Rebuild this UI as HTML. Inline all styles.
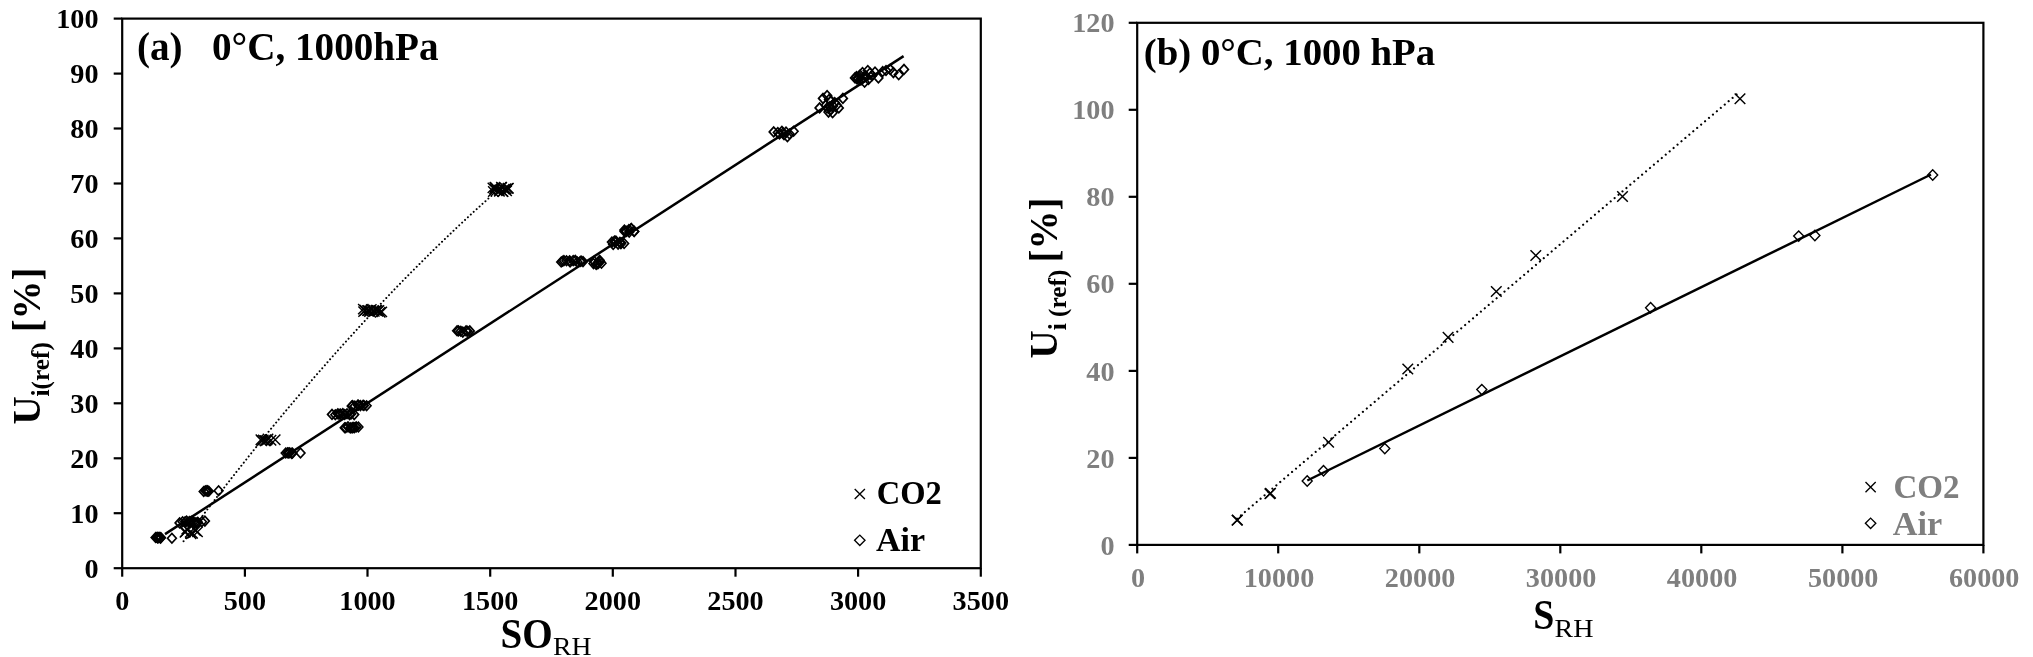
<!DOCTYPE html><html><head><meta charset="utf-8"><title>chart</title><style>
html,body{margin:0;padding:0;background:#fff;}
svg{display:block;filter:grayscale(1);font-family:"Liberation Serif",serif;font-weight:bold;}
.ax{stroke:#000;stroke-width:2.2;fill:none;stroke-linecap:butt}
.tk{stroke:#000;stroke-width:2.2}
.d{fill:none;stroke:#000;stroke-width:1.7}
.dr{fill:none;stroke:#000;stroke-width:1.4}
.x{fill:none;stroke:#000;stroke-width:1.45}
.lx{fill:none;stroke:#000;stroke-width:1.35}
.sol{stroke:#000;stroke-width:2.5;fill:none}
.dot{stroke:#000;stroke-width:2.2;fill:none;stroke-dasharray:0.01 5.15;stroke-linecap:round}
.dotl{stroke:#000;stroke-width:2.0;fill:none;stroke-dasharray:0.01 3.95;stroke-linecap:round}
.tl{font-size:28.2px;fill:#000}
.tg{font-size:28.2px;fill:#7f7f7f}
</style></head><body>
<svg width="2033" height="657" viewBox="0 0 2033 657">
<rect width="2033" height="657" fill="#fff"/>
<rect class="ax" x="122.2" y="18.6" width="858.6" height="549.6"/>
<line class="tk" x1="113.7" y1="568.2" x2="122.2" y2="568.2"/>
<text class="tl" x="98.5" y="577.8" text-anchor="end">0</text>
<line class="tk" x1="113.7" y1="513.2" x2="122.2" y2="513.2"/>
<text class="tl" x="98.5" y="522.8" text-anchor="end">10</text>
<line class="tk" x1="113.7" y1="458.3" x2="122.2" y2="458.3"/>
<text class="tl" x="98.5" y="467.9" text-anchor="end">20</text>
<line class="tk" x1="113.7" y1="403.3" x2="122.2" y2="403.3"/>
<text class="tl" x="98.5" y="412.9" text-anchor="end">30</text>
<line class="tk" x1="113.7" y1="348.4" x2="122.2" y2="348.4"/>
<text class="tl" x="98.5" y="358.0" text-anchor="end">40</text>
<line class="tk" x1="113.7" y1="293.4" x2="122.2" y2="293.4"/>
<text class="tl" x="98.5" y="303.0" text-anchor="end">50</text>
<line class="tk" x1="113.7" y1="238.4" x2="122.2" y2="238.4"/>
<text class="tl" x="98.5" y="248.0" text-anchor="end">60</text>
<line class="tk" x1="113.7" y1="183.5" x2="122.2" y2="183.5"/>
<text class="tl" x="98.5" y="193.1" text-anchor="end">70</text>
<line class="tk" x1="113.7" y1="128.5" x2="122.2" y2="128.5"/>
<text class="tl" x="98.5" y="138.1" text-anchor="end">80</text>
<line class="tk" x1="113.7" y1="73.6" x2="122.2" y2="73.6"/>
<text class="tl" x="98.5" y="83.2" text-anchor="end">90</text>
<line class="tk" x1="113.7" y1="18.6" x2="122.2" y2="18.6"/>
<text class="tl" x="98.5" y="28.2" text-anchor="end">100</text>
<line class="tk" x1="122.2" y1="568.2" x2="122.2" y2="576.7"/>
<text class="tl" x="122.2" y="610" text-anchor="middle">0</text>
<line class="tk" x1="244.9" y1="568.2" x2="244.9" y2="576.7"/>
<text class="tl" x="244.9" y="610" text-anchor="middle">500</text>
<line class="tk" x1="367.5" y1="568.2" x2="367.5" y2="576.7"/>
<text class="tl" x="367.5" y="610" text-anchor="middle">1000</text>
<line class="tk" x1="490.2" y1="568.2" x2="490.2" y2="576.7"/>
<text class="tl" x="490.2" y="610" text-anchor="middle">1500</text>
<line class="tk" x1="612.8" y1="568.2" x2="612.8" y2="576.7"/>
<text class="tl" x="612.8" y="610" text-anchor="middle">2000</text>
<line class="tk" x1="735.5" y1="568.2" x2="735.5" y2="576.7"/>
<text class="tl" x="735.5" y="610" text-anchor="middle">2500</text>
<line class="tk" x1="858.1" y1="568.2" x2="858.1" y2="576.7"/>
<text class="tl" x="858.1" y="610" text-anchor="middle">3000</text>
<line class="tk" x1="980.8" y1="568.2" x2="980.8" y2="576.7"/>
<text class="tl" x="980.8" y="610" text-anchor="middle">3500</text>
<line class="sol" x1="165" y1="534.1" x2="903.6" y2="56.1"/>
<path class="dotl" d="M183.6 541.2 L191.7 530.3 L199.8 519.5 L207.9 508.8 L216.1 498.2 L224.2 487.6 L232.3 477.2 L240.4 466.9 L248.5 456.7 L256.6 446.6 L264.7 436.5 L272.8 426.6 L280.9 416.8 L289.1 407.0 L297.2 397.4 L305.3 387.9 L313.4 378.4 L321.5 369.1 L329.6 359.8 L337.7 350.7 L345.9 341.6 L354.0 332.7 L362.1 323.8 L370.2 315.1 L378.3 306.4 L386.4 297.9 L394.5 289.4 L402.6 281.0 L410.8 272.7 L418.9 264.6 L427.0 256.5 L435.1 248.5 L443.2 240.6 L451.3 232.9 L459.4 225.2 L467.5 217.6 L475.6 210.1 L483.8 202.7 L491.9 195.4 L500.0 188.2 L508.1 181.1"/>
<path class="d" d="M151.2 537.5L155.6 532.7L160.0 537.5L155.6 542.3Z"/>
<path class="d" d="M152.7 537.4L157.1 532.6L161.5 537.4L157.1 542.2Z"/>
<path class="d" d="M153.3 537.7L157.7 532.9L162.1 537.7L157.7 542.5Z"/>
<path class="d" d="M153.1 537.8L157.5 533.0L161.9 537.8L157.5 542.6Z"/>
<path class="d" d="M153.9 537.7L158.3 532.9L162.7 537.7L158.3 542.5Z"/>
<path class="d" d="M154.7 537.4L159.1 532.6L163.5 537.4L159.1 542.2Z"/>
<path class="d" d="M156.2 538.1L160.6 533.3L165.0 538.1L160.6 542.9Z"/>
<path class="d" d="M156.4 537.5L160.8 532.7L165.2 537.5L160.8 542.3Z"/>
<path class="d" d="M167.5 538.2L171.9 533.4L176.3 538.2L171.9 543.0Z"/>
<path class="d" d="M175.2 522.9L179.6 518.1L184.0 522.9L179.6 527.7Z"/>
<path class="d" d="M178.2 521.8L182.6 517.0L187.0 521.8L182.6 526.6Z"/>
<path class="d" d="M182.2 521.1L186.6 516.3L191.0 521.1L186.6 525.9Z"/>
<path class="d" d="M185.2 521.6L189.6 516.8L194.0 521.6L189.6 526.4Z"/>
<path class="d" d="M186.9 521.2L191.3 516.4L195.7 521.2L191.3 526.0Z"/>
<path class="d" d="M190.5 522.6L194.9 517.8L199.3 522.6L194.9 527.4Z"/>
<path class="d" d="M193.4 522.2L197.8 517.4L202.2 522.2L197.8 527.0Z"/>
<path class="d" d="M197.5 521.7L201.9 516.9L206.3 521.7L201.9 526.5Z"/>
<path class="d" d="M200.5 521.1L204.9 516.3L209.3 521.1L204.9 525.9Z"/>
<path class="d" d="M180.7 521.8L185.1 517.0L189.5 521.8L185.1 526.6Z"/>
<path class="d" d="M184.4 522.3L188.8 517.5L193.2 522.3L188.8 527.1Z"/>
<path class="d" d="M186.0 522.7L190.4 517.9L194.8 522.7L190.4 527.5Z"/>
<path class="d" d="M188.7 522.0L193.1 517.2L197.5 522.0L193.1 526.8Z"/>
<path class="d" d="M191.8 523.0L196.2 518.2L200.6 523.0L196.2 527.8Z"/>
<path class="d" d="M193.1 522.7L197.5 517.9L201.9 522.7L197.5 527.5Z"/>
<path class="d" d="M199.3 491.5L203.7 486.7L208.1 491.5L203.7 496.3Z"/>
<path class="d" d="M200.9 490.7L205.3 485.9L209.7 490.7L205.3 495.5Z"/>
<path class="d" d="M202.6 490.5L207.0 485.7L211.4 490.5L207.0 495.3Z"/>
<path class="d" d="M202.7 491.3L207.1 486.5L211.5 491.3L207.1 496.1Z"/>
<path class="d" d="M203.4 491.0L207.8 486.2L212.2 491.0L207.8 495.8Z"/>
<path class="d" d="M204.4 491.2L208.8 486.4L213.2 491.2L208.8 496.0Z"/>
<path class="d" d="M214.2 490.7L218.6 485.9L223.0 490.7L218.6 495.5Z"/>
<path class="d" d="M281.3 453.0L285.7 448.2L290.1 453.0L285.7 457.8Z"/>
<path class="d" d="M283.0 452.7L287.4 447.9L291.8 452.7L287.4 457.5Z"/>
<path class="d" d="M284.1 453.0L288.5 448.2L292.9 453.0L288.5 457.8Z"/>
<path class="d" d="M285.3 452.8L289.7 448.0L294.1 452.8L289.7 457.6Z"/>
<path class="d" d="M287.3 453.4L291.7 448.6L296.1 453.4L291.7 458.2Z"/>
<path class="d" d="M288.0 453.1L292.4 448.3L296.8 453.1L292.4 457.9Z"/>
<path class="d" d="M296.1 453.0L300.5 448.2L304.9 453.0L300.5 457.8Z"/>
<path class="d" d="M327.6 414.4L332.0 409.6L336.4 414.4L332.0 419.2Z"/>
<path class="d" d="M330.9 414.8L335.3 410.0L339.7 414.8L335.3 419.6Z"/>
<path class="d" d="M333.4 413.8L337.8 409.0L342.2 413.8L337.8 418.6Z"/>
<path class="d" d="M334.6 414.3L339.0 409.5L343.4 414.3L339.0 419.1Z"/>
<path class="d" d="M336.0 414.0L340.4 409.2L344.8 414.0L340.4 418.8Z"/>
<path class="d" d="M338.4 413.6L342.8 408.8L347.2 413.6L342.8 418.4Z"/>
<path class="d" d="M340.3 414.5L344.7 409.7L349.1 414.5L344.7 419.3Z"/>
<path class="d" d="M342.6 413.7L347.0 408.9L351.4 413.7L347.0 418.5Z"/>
<path class="d" d="M345.2 414.6L349.6 409.8L354.0 414.6L349.6 419.4Z"/>
<path class="d" d="M346.7 414.0L351.1 409.2L355.5 414.0L351.1 418.8Z"/>
<path class="d" d="M349.8 414.6L354.2 409.8L358.6 414.6L354.2 419.4Z"/>
<path class="d" d="M347.3 406.1L351.7 401.3L356.1 406.1L351.7 410.9Z"/>
<path class="d" d="M348.2 405.5L352.6 400.7L357.0 405.5L352.6 410.3Z"/>
<path class="d" d="M350.4 406.1L354.8 401.3L359.2 406.1L354.8 410.9Z"/>
<path class="d" d="M353.5 405.1L357.9 400.3L362.3 405.1L357.9 409.9Z"/>
<path class="d" d="M354.0 405.2L358.4 400.4L362.8 405.2L358.4 410.0Z"/>
<path class="d" d="M356.0 405.6L360.4 400.8L364.8 405.6L360.4 410.4Z"/>
<path class="d" d="M358.7 405.3L363.1 400.5L367.5 405.3L363.1 410.1Z"/>
<path class="d" d="M359.5 405.5L363.9 400.7L368.3 405.5L363.9 410.3Z"/>
<path class="d" d="M362.2 405.7L366.6 400.9L371.0 405.7L366.6 410.5Z"/>
<path class="d" d="M340.3 427.8L344.7 423.0L349.1 427.8L344.7 432.6Z"/>
<path class="d" d="M341.3 427.7L345.7 422.9L350.1 427.7L345.7 432.5Z"/>
<path class="d" d="M343.6 426.9L348.0 422.1L352.4 426.9L348.0 431.7Z"/>
<path class="d" d="M345.9 427.9L350.3 423.1L354.7 427.9L350.3 432.7Z"/>
<path class="d" d="M347.7 427.9L352.1 423.1L356.5 427.9L352.1 432.7Z"/>
<path class="d" d="M348.7 427.4L353.1 422.6L357.5 427.4L353.1 432.2Z"/>
<path class="d" d="M350.0 427.7L354.4 422.9L358.8 427.7L354.4 432.5Z"/>
<path class="d" d="M351.8 426.9L356.2 422.1L360.6 426.9L356.2 431.7Z"/>
<path class="d" d="M354.0 427.0L358.4 422.2L362.8 427.0L358.4 431.8Z"/>
<path class="d" d="M452.7 330.8L457.1 326.0L461.5 330.8L457.1 335.6Z"/>
<path class="d" d="M454.1 330.9L458.5 326.1L462.9 330.9L458.5 335.7Z"/>
<path class="d" d="M456.4 331.3L460.8 326.5L465.2 331.3L460.8 336.1Z"/>
<path class="d" d="M458.4 332.1L462.8 327.3L467.2 332.1L462.8 336.9Z"/>
<path class="d" d="M461.7 330.9L466.1 326.1L470.5 330.9L466.1 335.7Z"/>
<path class="d" d="M463.1 331.3L467.5 326.5L471.9 331.3L467.5 336.1Z"/>
<path class="d" d="M465.4 330.9L469.8 326.1L474.2 330.9L469.8 335.7Z"/>
<path class="d" d="M556.8 262.0L561.2 257.2L565.6 262.0L561.2 266.8Z"/>
<path class="d" d="M558.1 261.2L562.5 256.4L566.9 261.2L562.5 266.0Z"/>
<path class="d" d="M559.5 260.6L563.9 255.8L568.3 260.6L563.9 265.4Z"/>
<path class="d" d="M562.1 260.8L566.5 256.0L570.9 260.8L566.5 265.6Z"/>
<path class="d" d="M565.2 260.7L569.6 255.9L574.0 260.7L569.6 265.5Z"/>
<path class="d" d="M565.7 261.9L570.1 257.1L574.5 261.9L570.1 266.7Z"/>
<path class="d" d="M568.8 260.6L573.2 255.8L577.6 260.6L573.2 265.4Z"/>
<path class="d" d="M570.9 260.4L575.3 255.6L579.7 260.4L575.3 265.2Z"/>
<path class="d" d="M573.0 262.0L577.4 257.2L581.8 262.0L577.4 266.8Z"/>
<path class="d" d="M575.8 261.5L580.2 256.7L584.6 261.5L580.2 266.3Z"/>
<path class="d" d="M576.7 261.0L581.1 256.2L585.5 261.0L581.1 265.8Z"/>
<path class="d" d="M578.6 261.6L583.0 256.8L587.4 261.6L583.0 266.4Z"/>
<path class="d" d="M589.1 263.6L593.5 258.8L597.9 263.6L593.5 268.4Z"/>
<path class="d" d="M589.7 261.2L594.1 256.4L598.5 261.2L594.1 266.0Z"/>
<path class="d" d="M591.8 264.5L596.2 259.7L600.6 264.5L596.2 269.3Z"/>
<path class="d" d="M592.9 263.7L597.3 258.9L601.7 263.7L597.3 268.5Z"/>
<path class="d" d="M593.9 263.5L598.3 258.7L602.7 263.5L598.3 268.3Z"/>
<path class="d" d="M593.8 262.5L598.2 257.7L602.6 262.5L598.2 267.3Z"/>
<path class="d" d="M595.2 260.3L599.6 255.5L604.0 260.3L599.6 265.1Z"/>
<path class="d" d="M595.6 261.4L600.0 256.6L604.4 261.4L600.0 266.2Z"/>
<path class="d" d="M597.1 263.2L601.5 258.4L605.9 263.2L601.5 268.0Z"/>
<path class="d" d="M607.5 242.1L611.9 237.3L616.3 242.1L611.9 246.9Z"/>
<path class="d" d="M608.8 244.4L613.2 239.6L617.6 244.4L613.2 249.2Z"/>
<path class="d" d="M610.2 241.7L614.6 236.9L619.0 241.7L614.6 246.5Z"/>
<path class="d" d="M610.1 241.1L614.5 236.3L618.9 241.1L614.5 245.9Z"/>
<path class="d" d="M611.5 241.0L615.9 236.2L620.3 241.0L615.9 245.8Z"/>
<path class="d" d="M613.7 244.1L618.1 239.3L622.5 244.1L618.1 248.9Z"/>
<path class="d" d="M615.5 242.2L619.9 237.4L624.3 242.2L619.9 247.0Z"/>
<path class="d" d="M616.5 243.6L620.9 238.8L625.3 243.6L620.9 248.4Z"/>
<path class="d" d="M616.7 243.0L621.1 238.2L625.5 243.0L621.1 247.8Z"/>
<path class="d" d="M619.7 243.5L624.1 238.7L628.5 243.5L624.1 248.3Z"/>
<path class="d" d="M620.0 230.0L624.4 225.2L628.8 230.0L624.4 234.8Z"/>
<path class="d" d="M620.2 231.4L624.6 226.6L629.0 231.4L624.6 236.2Z"/>
<path class="d" d="M621.9 231.4L626.3 226.6L630.7 231.4L626.3 236.2Z"/>
<path class="d" d="M624.5 229.6L628.9 224.8L633.3 229.6L628.9 234.4Z"/>
<path class="d" d="M624.8 232.1L629.2 227.3L633.6 232.1L629.2 236.9Z"/>
<path class="d" d="M626.8 228.6L631.2 223.8L635.6 228.6L631.2 233.4Z"/>
<path class="d" d="M626.9 228.6L631.3 223.8L635.7 228.6L631.3 233.4Z"/>
<path class="d" d="M629.8 231.4L634.2 226.6L638.6 231.4L634.2 236.2Z"/>
<path class="d" d="M629.7 231.5L634.1 226.7L638.5 231.5L634.1 236.3Z"/>
<path class="d" d="M769.3 131.9L773.7 127.1L778.1 131.9L773.7 136.7Z"/>
<path class="d" d="M773.4 132.6L777.8 127.8L782.2 132.6L777.8 137.4Z"/>
<path class="d" d="M777.5 131.2L781.9 126.4L786.3 131.2L781.9 136.0Z"/>
<path class="d" d="M779.6 134.7L784.0 129.9L788.4 134.7L784.0 139.5Z"/>
<path class="d" d="M783.0 136.7L787.4 131.9L791.8 136.7L787.4 141.5Z"/>
<path class="d" d="M785.1 134.0L789.5 129.2L793.9 134.0L789.5 138.8Z"/>
<path class="d" d="M789.2 131.2L793.6 126.4L798.0 131.2L793.6 136.0Z"/>
<path class="d" d="M775.1 134.0L779.5 129.2L783.9 134.0L779.5 138.8Z"/>
<path class="d" d="M778.6 133.0L783.0 128.2L787.4 133.0L783.0 137.8Z"/>
<path class="d" d="M781.6 132.0L786.0 127.2L790.4 132.0L786.0 136.8Z"/>
<path class="d" d="M815.2 107.9L819.6 103.1L824.0 107.9L819.6 112.7Z"/>
<path class="d" d="M818.6 98.4L823.0 93.6L827.4 98.4L823.0 103.2Z"/>
<path class="d" d="M822.7 95.6L827.1 90.8L831.5 95.6L827.1 100.4Z"/>
<path class="d" d="M821.4 105.2L825.8 100.4L830.2 105.2L825.8 110.0Z"/>
<path class="d" d="M824.1 112.1L828.5 107.3L832.9 112.1L828.5 116.9Z"/>
<path class="d" d="M826.8 101.1L831.2 96.3L835.6 101.1L831.2 105.9Z"/>
<path class="d" d="M828.2 112.7L832.6 107.9L837.0 112.7L832.6 117.5Z"/>
<path class="d" d="M832.3 105.2L836.7 100.4L841.1 105.2L836.7 110.0Z"/>
<path class="d" d="M834.4 107.9L838.8 103.1L843.2 107.9L838.8 112.7Z"/>
<path class="d" d="M838.5 98.4L842.9 93.6L847.3 98.4L842.9 103.2Z"/>
<path class="d" d="M825.5 106.6L829.9 101.8L834.3 106.6L829.9 111.4Z"/>
<path class="d" d="M830.3 102.5L834.7 97.7L839.1 102.5L834.7 107.3Z"/>
<path class="d" d="M822.6 108.0L827.0 103.2L831.4 108.0L827.0 112.8Z"/>
<path class="d" d="M826.6 109.5L831.0 104.7L835.4 109.5L831.0 114.3Z"/>
<path class="d" d="M824.6 99.5L829.0 94.7L833.4 99.5L829.0 104.3Z"/>
<path class="d" d="M828.6 106.0L833.0 101.2L837.4 106.0L833.0 110.8Z"/>
<path class="d" d="M850.6 77.9L855.0 73.1L859.4 77.9L855.0 82.7Z"/>
<path class="d" d="M852.1 76.5L856.5 71.7L860.9 76.5L856.5 81.3Z"/>
<path class="d" d="M853.6 78.5L858.0 73.7L862.4 78.5L858.0 83.3Z"/>
<path class="d" d="M858.1 72.6L862.5 67.8L866.9 72.6L862.5 77.4Z"/>
<path class="d" d="M863.4 70.5L867.8 65.7L872.2 70.5L867.8 75.3Z"/>
<path class="d" d="M860.2 82.2L864.6 77.4L869.0 82.2L864.6 87.0Z"/>
<path class="d" d="M867.6 75.8L872.0 71.0L876.4 75.8L872.0 80.6Z"/>
<path class="d" d="M874.0 77.9L878.4 73.1L882.8 77.9L878.4 82.7Z"/>
<path class="d" d="M878.3 71.5L882.7 66.7L887.1 71.5L882.7 76.3Z"/>
<path class="d" d="M885.8 69.4L890.2 64.6L894.6 69.4L890.2 74.2Z"/>
<path class="d" d="M889.0 72.6L893.4 67.8L897.8 72.6L893.4 77.4Z"/>
<path class="d" d="M894.3 74.7L898.7 69.9L903.1 74.7L898.7 79.5Z"/>
<path class="d" d="M899.6 69.4L904.0 64.6L908.4 69.4L904.0 74.2Z"/>
<path class="d" d="M855.6 75.0L860.0 70.2L864.4 75.0L860.0 79.8Z"/>
<path class="d" d="M865.6 73.0L870.0 68.2L874.4 73.0L870.0 77.8Z"/>
<path class="d" d="M881.6 70.5L886.0 65.7L890.4 70.5L886.0 75.3Z"/>
<path class="d" d="M870.6 72.0L875.0 67.2L879.4 72.0L875.0 76.8Z"/>
<path class="d" d="M852.6 79.0L857.0 74.2L861.4 79.0L857.0 83.8Z"/>
<path class="d" d="M861.6 76.0L866.0 71.2L870.4 76.0L866.0 80.8Z"/>
<path class="d" d="M856.6 80.0L861.0 75.2L865.4 80.0L861.0 84.8Z"/>
<path class="d" d="M859.1 77.5L863.5 72.7L867.9 77.5L863.5 82.3Z"/>
<path class="d" d="M854.6 76.2L859.0 71.4L863.4 76.2L859.0 81.0Z"/>
<path class="d" d="M864.1 79.5L868.5 74.7L872.9 79.5L868.5 84.3Z"/>
<path class="x" d="M179.8 527.1L190.2 537.5M179.8 537.5L190.2 527.1"/>
<path class="x" d="M180.3 526.5L190.7 536.9M180.3 536.9L190.7 526.5"/>
<path class="x" d="M181.6 523.9L192.0 534.3M181.6 534.3L192.0 523.9"/>
<path class="x" d="M185.0 527.0L195.4 537.4M185.0 537.4L195.4 527.0"/>
<path class="x" d="M185.9 528.5L196.3 538.9M185.9 538.9L196.3 528.5"/>
<path class="x" d="M187.4 528.2L197.8 538.6M187.4 538.6L197.8 528.2"/>
<path class="x" d="M190.0 524.9L200.4 535.3M190.0 535.3L200.4 524.9"/>
<path class="x" d="M190.6 525.3L201.0 535.7M190.6 535.7L201.0 525.3"/>
<path class="x" d="M192.3 526.7L202.7 537.1M192.3 537.1L202.7 526.7"/>
<path class="x" d="M255.7 434.6L266.1 445.0M255.7 445.0L266.1 434.6"/>
<path class="x" d="M256.6 435.6L267.0 446.0M256.6 446.0L267.0 435.6"/>
<path class="x" d="M258.1 434.7L268.5 445.1M258.1 445.1L268.5 434.7"/>
<path class="x" d="M259.7 435.6L270.1 446.0M259.7 446.0L270.1 435.6"/>
<path class="x" d="M260.4 435.6L270.8 446.0M260.4 446.0L270.8 435.6"/>
<path class="x" d="M261.7 434.9L272.1 445.3M261.7 445.3L272.1 434.9"/>
<path class="x" d="M262.8 433.8L273.2 444.2M262.8 444.2L273.2 433.8"/>
<path class="x" d="M265.8 435.0L276.2 445.4M265.8 445.4L276.2 435.0"/>
<path class="x" d="M270.0 434.6L280.4 445.0M270.0 445.0L280.4 434.6"/>
<path class="x" d="M358.1 303.9L368.5 314.3M358.1 314.3L368.5 303.9"/>
<path class="x" d="M358.4 306.4L368.8 316.8M358.4 316.8L368.8 306.4"/>
<path class="x" d="M359.9 305.1L370.3 315.5M359.9 315.5L370.3 305.1"/>
<path class="x" d="M362.3 305.4L372.7 315.8M362.3 315.8L372.7 305.4"/>
<path class="x" d="M362.7 305.3L373.1 315.7M362.7 315.7L373.1 305.3"/>
<path class="x" d="M364.3 306.3L374.7 316.7M364.3 316.7L374.7 306.3"/>
<path class="x" d="M364.6 305.4L375.0 315.8M364.6 315.8L375.0 305.4"/>
<path class="x" d="M366.1 304.3L376.5 314.7M366.1 314.7L376.5 304.3"/>
<path class="x" d="M368.3 305.2L378.7 315.6M368.3 315.6L378.7 305.2"/>
<path class="x" d="M369.1 306.2L379.5 316.6M369.1 316.6L379.5 306.2"/>
<path class="x" d="M371.0 305.0L381.4 315.4M371.0 315.4L381.4 305.0"/>
<path class="x" d="M371.6 305.2L382.0 315.6M371.6 315.6L382.0 305.2"/>
<path class="x" d="M372.6 306.0L383.0 316.4M372.6 316.4L383.0 306.0"/>
<path class="x" d="M373.7 305.3L384.1 315.7M373.7 315.7L384.1 305.3"/>
<path class="x" d="M375.0 307.0L385.4 317.4M375.0 317.4L385.4 307.0"/>
<path class="x" d="M376.6 306.7L387.0 317.1M376.6 317.1L387.0 306.7"/>
<path class="x" d="M487.7 182.7L498.1 193.1M487.7 193.1L498.1 182.7"/>
<path class="x" d="M488.1 186.3L498.5 196.7M488.1 196.7L498.5 186.3"/>
<path class="x" d="M489.7 182.1L500.1 192.5M489.7 192.5L500.1 182.1"/>
<path class="x" d="M489.4 183.7L499.8 194.1M489.4 194.1L499.8 183.7"/>
<path class="x" d="M490.5 182.7L500.9 193.1M490.5 193.1L500.9 182.7"/>
<path class="x" d="M491.6 184.9L502.0 195.3M491.6 195.3L502.0 184.9"/>
<path class="x" d="M494.2 186.1L504.6 196.5M494.2 196.5L504.6 186.1"/>
<path class="x" d="M494.0 185.1L504.4 195.5M494.0 195.5L504.4 185.1"/>
<path class="x" d="M496.2 182.1L506.6 192.5M496.2 192.5L506.6 182.1"/>
<path class="x" d="M497.8 186.4L508.2 196.8M497.8 196.8L508.2 186.4"/>
<path class="x" d="M497.6 186.4L508.0 196.8M497.6 196.8L508.0 186.4"/>
<path class="x" d="M499.1 183.9L509.5 194.3M499.1 194.3L509.5 183.9"/>
<path class="x" d="M501.4 185.7L511.8 196.1M501.4 196.1L511.8 185.7"/>
<path class="x" d="M500.9 183.6L511.3 194.0M500.9 194.0L511.3 183.6"/>
<path class="x" d="M502.7 183.2L513.1 193.6M502.7 193.6L513.1 183.2"/>
<path class="x" d="M503.2 183.1L513.6 193.5M503.2 193.5L513.6 183.1"/>
<path class="lx" d="M854.7 488.9L864.9 499.1M854.7 499.1L864.9 488.9"/>
<path class="lx" d="M854.6 540.3L859.8 535.1L865.0 540.3L859.8 545.5Z"/>
<text transform="translate(876.8 504.2) scale(0.98 1)" font-size="33.2px">CO2</text>
<text transform="translate(876 551) scale(1.025 1)" font-size="33.2px">Air</text>
<text x="137" y="60" font-size="39.15px" xml:space="preserve">(a)   0°C, 1000hPa</text>
<text transform="translate(500.6 647.6) scale(0.925 1)" font-size="42.3px">SO</text>
<text transform="translate(553 655.3) scale(1.125 1)" font-size="24.6px" font-weight="normal">RH</text>
<text transform="translate(39.7 424.6) rotate(-90)" font-size="39px" xml:space="preserve">U<tspan font-size="25.3px" dy="9.2">i(ref)</tspan><tspan dy="-9.2"> [%]</tspan></text>
<rect class="ax" x="1137.2" y="22.8" width="846.2" height="522.1"/>
<line class="tk" x1="1128.7" y1="544.9" x2="1137.2" y2="544.9"/>
<text class="tg" x="1114.5" y="554.5" text-anchor="end">0</text>
<line class="tk" x1="1128.7" y1="457.9" x2="1137.2" y2="457.9"/>
<text class="tg" x="1114.5" y="467.5" text-anchor="end">20</text>
<line class="tk" x1="1128.7" y1="370.9" x2="1137.2" y2="370.9"/>
<text class="tg" x="1114.5" y="380.5" text-anchor="end">40</text>
<line class="tk" x1="1128.7" y1="283.8" x2="1137.2" y2="283.8"/>
<text class="tg" x="1114.5" y="293.4" text-anchor="end">60</text>
<line class="tk" x1="1128.7" y1="196.8" x2="1137.2" y2="196.8"/>
<text class="tg" x="1114.5" y="206.4" text-anchor="end">80</text>
<line class="tk" x1="1128.7" y1="109.8" x2="1137.2" y2="109.8"/>
<text class="tg" x="1114.5" y="119.4" text-anchor="end">100</text>
<line class="tk" x1="1128.7" y1="22.8" x2="1137.2" y2="22.8"/>
<text class="tg" x="1114.5" y="32.4" text-anchor="end">120</text>
<line class="tk" x1="1137.2" y1="544.9" x2="1137.2" y2="553.4"/>
<text class="tg" x="1138.0" y="587" text-anchor="middle">0</text>
<line class="tk" x1="1278.2" y1="544.9" x2="1278.2" y2="553.4"/>
<text class="tg" x="1279.0" y="587" text-anchor="middle">10000</text>
<line class="tk" x1="1419.3" y1="544.9" x2="1419.3" y2="553.4"/>
<text class="tg" x="1420.1" y="587" text-anchor="middle">20000</text>
<line class="tk" x1="1560.3" y1="544.9" x2="1560.3" y2="553.4"/>
<text class="tg" x="1561.1" y="587" text-anchor="middle">30000</text>
<line class="tk" x1="1701.3" y1="544.9" x2="1701.3" y2="553.4"/>
<text class="tg" x="1702.1" y="587" text-anchor="middle">40000</text>
<line class="tk" x1="1842.4" y1="544.9" x2="1842.4" y2="553.4"/>
<text class="tg" x="1843.2" y="587" text-anchor="middle">50000</text>
<line class="tk" x1="1983.4" y1="544.9" x2="1983.4" y2="553.4"/>
<text class="tg" x="1984.2" y="587" text-anchor="middle">60000</text>
<line class="sol" x1="1307.3" y1="480.5" x2="1931" y2="174.5"/>
<line class="dot" x1="1237" y1="518.7" x2="1739.5" y2="92"/>
<path class="dr" d="M1302.2 481.0L1307.2 475.8L1312.2 481.0L1307.2 486.2Z"/>
<path class="dr" d="M1318.5 470.7L1323.5 465.5L1328.5 470.7L1323.5 475.9Z"/>
<path class="dr" d="M1379.8 448.6L1384.8 443.4L1389.8 448.6L1384.8 453.8Z"/>
<path class="dr" d="M1476.8 389.6L1481.8 384.4L1486.8 389.6L1481.8 394.8Z"/>
<path class="dr" d="M1645.6 307.7L1650.6 302.5L1655.6 307.7L1650.6 312.9Z"/>
<path class="dr" d="M1793.7 236.1L1798.7 230.9L1803.7 236.1L1798.7 241.3Z"/>
<path class="dr" d="M1809.9 235.5L1814.9 230.3L1819.9 235.5L1814.9 240.7Z"/>
<path class="dr" d="M1927.7 175.0L1932.7 169.8L1937.7 175.0L1932.7 180.2Z"/>
<path class="x" d="M1231.8 515.0L1242.4 525.6M1231.8 525.6L1242.4 515.0"/>
<path class="x" d="M1232.1 514.7L1242.7 525.3M1232.1 525.3L1242.7 514.7"/>
<path class="x" d="M1265.2 488.0L1275.8 498.6M1265.2 498.6L1275.8 488.0"/>
<path class="x" d="M1264.6 488.5L1275.2 499.1M1264.6 499.1L1275.2 488.5"/>
<path class="x" d="M1323.3 436.9L1333.9 447.5M1323.3 447.5L1333.9 436.9"/>
<path class="x" d="M1402.5 363.7L1413.1 374.3M1402.5 374.3L1413.1 363.7"/>
<path class="x" d="M1442.8 332.1L1453.4 342.7M1442.8 342.7L1453.4 332.1"/>
<path class="x" d="M1491.0 286.2L1501.6 296.8M1491.0 296.8L1501.6 286.2"/>
<path class="x" d="M1530.5 250.2L1541.1 260.8M1530.5 260.8L1541.1 250.2"/>
<path class="x" d="M1617.2 191.2L1627.8 201.8M1617.2 201.8L1627.8 191.2"/>
<path class="x" d="M1734.7 93.5L1745.3 104.1M1734.7 104.1L1745.3 93.5"/>
<path class="lx" d="M1865.5 482.1L1875.7 492.3M1865.5 492.3L1875.7 482.1"/>
<path class="lx" d="M1865.4 523.3L1870.6 518.1L1875.8 523.3L1870.6 528.5Z"/>
<text transform="translate(1893.4 498.3) scale(0.985 1)" font-size="33.6px" fill="#7f7f7f">CO2</text>
<text transform="translate(1892.8 535.3) scale(1.02 1)" font-size="33.6px" fill="#7f7f7f">Air</text>
<text x="1143.8" y="64.6" font-size="38.8px" xml:space="preserve">(b) 0°C, 1000 hPa</text>
<text transform="translate(1533.3 629.2) scale(0.888 1)" font-size="42.7px">S</text>
<text transform="translate(1554.5 637.2) scale(1.08 1)" font-size="26px" font-weight="normal">RH</text>
<text transform="translate(1056.5 358.4) rotate(-90)" font-size="39px" xml:space="preserve">U<tspan font-size="25.3px" dy="9.2">i (ref)</tspan><tspan dy="-9.2" dx="-2.7"> [%]</tspan></text>
</svg></body></html>
